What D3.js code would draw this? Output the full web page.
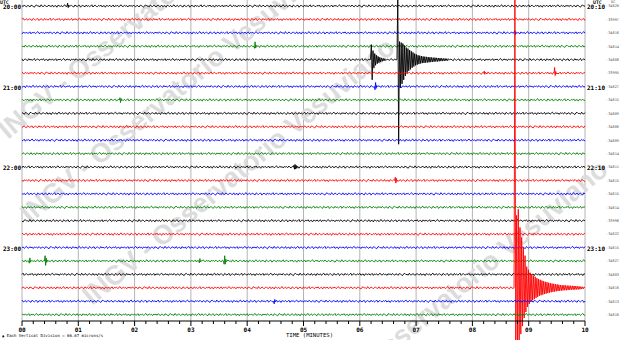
<!DOCTYPE html>
<html>
<head>
<meta charset="utf-8">
<script src="https://cdn.jsdelivr.net/npm/d3@7"></script>
<style>
  body { margin: 0; background: #fff; }
  svg { display: block; }
  text { font-family: "DejaVu Sans Mono", monospace; }
</style>
</head>
<body>
<div id="chart"></div>
<script>
// helicorder, 24 rows of 10 minutes, 20:00 -> 23:50 UTC
var tickLabels = ["00","01","02","03","04","05","06","07","08","09","10"];
var hourRows = [0, 6, 12, 18];
var hourLeft = ["20:00","21:00","22:00","23:00"];
var hourRight = ["20:10","21:10","22:10","23:10"];
// level printed at the right of every row
var rowLevels = [-34620,-33997,-34616,-34614,-34608,-33995,-34627,-34615,
                 -34609,-34606,-34609,-34614,-34611,-34615,-34615,-34614,
                 -33998,-34622,-34615,-34627,-34603,-34616,-34613,-34616];
var division = 66.67; // microns/s per vertical division

// background noise (microns/s), read as a short record and reused along the rows
var noise = [2,-3,5,-1,-4,3,1,-5,4,2,-2,-6,3,5,-1,0,-4,6,-2,-3,4,1,-5,2,3,-1,-3,5,-4,0,
             2,-6,4,1,-2,3,-5,2,6,-3,-1,4,-4,1,3,-2,-5,5,0,-3,2,4,-6,1,3,-1,-4,5,-2,2,
             -3,0,6,-5,1,4,-2,-3,3,-1,5,-4,0,2,-6,3,1,-2,4,-3,-1,5,-5,2,0,3,-4,1,6,-2,
             -3,4,-1,2,-5,3,0];

// events : row, start minute, minutes per sample, samples (microns/s, up positive)
var events = [
  {row:0, t:0.80, dt:0.01, v:[0,14,-8,5,-2,0]},
  {row:2, t:8.74, dt:0.01, v:[0,12,-9,6,-3,0]},
  {row:3, t:4.12, dt:0.01, v:[0,-10,22,-9,5,-2,0]},
  {row:4, t:6.19, dt:0.015, v:[0,75,-100,45,-40,30,-28,22,-20,16,-15,12,-11,9,-8,7,-6,5,-4,0]},
  {row:4, t:6.66, dt:0.015, v:[0,320,-420,90,-140,85,-120,80,-100,70,-80,60,-65,55,-55,48,-48,42,-40,36,
                               -34,30,-28,26,-25,22,-22,20,-19,18,-17,16,-16,15,-15,14,-14,13,-13,12,-12,
                               11,-11,10,-10,10,-9,9,-9,8,-8,8,-7,7,-7,6,-6,6,-5,5,-5,4,0]},
  {row:5, t:8.20, dt:0.01, v:[0,10,-6,4,0]},
  {row:5, t:9.45, dt:0.01, v:[0,28,-12,8,-4,0]},
  {row:6, t:6.26, dt:0.01, v:[0,-16,20,-9,5,0]},
  {row:7, t:1.73, dt:0.01, v:[0,11,-13,7,-3,0]},
  {row:12, t:4.82, dt:0.01, v:[0,9,-11,13,-10,8,-6,4,-2,0]},
  {row:13, t:6.62, dt:0.01, v:[0,16,-13,10,-5,0]},
  {row:19, t:0.12, dt:0.01, v:[0,-11,15,-6,3,0]},
  {row:19, t:0.40, dt:0.01, v:[0,26,-22,14,-7,4,0]},
  {row:19, t:3.14, dt:0.01, v:[0,-9,12,-5,0]},
  {row:19, t:3.58, dt:0.01, v:[0,-16,26,-16,9,-4,0]},
  {row:22, t:4.47, dt:0.01, v:[0,-13,9,-4,0]},
  {row:21, t:8.74, dt:0.015, v:[0,1460,-320,360,-280,390,-260,300,-230,250,-190,200,-150,160,-120,105,-95,90,
                                -80,75,-70,68,-62,60,-56,55,-50,48,-45,44,-40,40,-37,36,-34,33,-31,30,-29,28,
                                -26,25,-24,23,-22,21,-20,20,-19,18,-17,17,-16,15,-15,14,-14,13,-13,13,-12,12,
                                -12,11,-11,11,-10,10,-10,10,-9,9,-9,9,-8,8,-8,7,-7,6,-6,5,-5,4,0]}
];

var rowColors = ["#000000", "#ff0000", "#0000ff", "#008000"];
var watermarkText = "INGV - Osservatorio Vesuviano";

var width = 620, height = 340,
    x0 = 22, x1 = 585, yTop = 6, rowStep = 13.42, axisY = 321;

var svg = d3.select("#chart").append("svg")
  .attr("width", width).attr("height", height);
svg.append("rect").attr("width", width).attr("height", height).attr("fill", "#fff");

var xscale = d3.scaleLinear().domain([0, 10]).range([x0, x1]);
var ampscale = d3.scaleLinear().domain([0, division]).range([0, rowStep]);
function rowY(r) { return yTop + r * rowStep; }

// minute grid
svg.append("g").selectAll("line").data(d3.range(0, 11)).enter().append("line")
  .attr("x1", d => xscale(d)).attr("x2", d => xscale(d))
  .attr("y1", 0).attr("y2", axisY)
  .attr("stroke", "#b4b4b4").attr("stroke-width", 1);

// watermark
var wm = [[8, 140], [30, 224], [92, 306], [305, 428]];
svg.append("g").selectAll("text").data(wm).enter().append("text")
  .attr("transform", d => "translate(" + d[0] + "," + d[1] + ") rotate(-40)")
  .style("font-family", "'Liberation Sans', Arial, sans-serif")
  .style("font-weight", "bold").style("font-size", "27px")
  .attr("fill", "#dcdcdc")
  .text(watermarkText);

// traces
var line = d3.line().x(d => xscale(d[0])).y(d => d[1]);
var nRows = rowLevels.length;
var traces = svg.append("g");
for (var r = 0; r < nRows; r++) {
  var evs = events.filter(e => e.row === r);
  var pts = [];
  for (var k = 0; k <= 500; k++) {
    var t = k * 0.02;
    var inside = evs.some(e => t >= e.t && t <= e.t + e.dt * (e.v.length - 1));
    if (!inside) pts.push([t, noise[(k + r * 37) % noise.length]]);
  }
  evs.forEach(function(e) {
    e.v.forEach(function(v, j) { pts.push([e.t + j * e.dt, v]); });
  });
  pts.sort((a, b) => a[0] - b[0]);
  var base = rowY(r);
  traces.append("path")
    .attr("d", line(pts.map(p => [p[0], base - ampscale(p[1])])))
    .attr("fill", "none")
    .attr("stroke", rowColors[r % 4])
    .attr("stroke-width", 0.9);
}

// time axis
var axis = svg.append("g");
axis.append("line").attr("x1", x0).attr("x2", x1).attr("y1", axisY).attr("y2", axisY)
  .attr("stroke", "#000");
axis.selectAll("line.minor").data(d3.range(0, 51)).enter().append("line")
  .attr("class", "minor")
  .attr("x1", d => xscale(d / 5)).attr("x2", d => xscale(d / 5))
  .attr("y1", axisY).attr("y2", d => axisY + (d % 5 === 0 ? 5 : 3))
  .attr("stroke", "#000");
axis.selectAll("text").data(tickLabels).enter().append("text")
  .attr("x", (d, i) => xscale(i)).attr("y", 331.5)
  .attr("text-anchor", "middle")
  .style("font-size", "6px").style("font-weight", "bold")
  .text(d => d);
svg.append("text").attr("x", xscale(5) + 6).attr("y", 336.5)
  .attr("text-anchor", "middle")
  .style("font-size", "5.6px")
  .text("TIME (MINUTES)");
svg.append("text").attr("x", 2).attr("y", 336.5)
  .style("font-size", "4px")
  .text("\u25B2  Each Vertical Division =   66.67 microns/s");

// hour labels
var hl = svg.append("g").style("font-size", "6px").style("font-weight", "bold");
hl.append("text").attr("x", 0).attr("y", 3.6).style("font-size", "4.8px").text("UTC");
hl.append("text").attr("x", 593).attr("y", 3.6).style("font-size", "4.8px").text("UTC");
hl.selectAll("text.left").data(hourRows).enter().append("text").attr("class", "left")
  .attr("x", x0 - 1).attr("y", d => rowY(d) + 3.2).attr("text-anchor", "end")
  .text((d, i) => hourLeft[i]);
hl.selectAll("text.right").data(hourRows).enter().append("text").attr("class", "right")
  .attr("x", x1 + 2).attr("y", d => rowY(d) + 3.2)
  .text((d, i) => hourRight[i]);

// row levels
var lv = svg.append("g").style("font-size", "3.6px").attr("fill", "#555");
lv.append("text").attr("x", 611).attr("y", 3).text("DC");
lv.selectAll("text.lv").data(rowLevels).enter().append("text").attr("class", "lv")
  .attr("x", 606).attr("y", (d, i) => rowY(i) + 1.3)
  .text(d => d);
</script>
</body>
</html>
